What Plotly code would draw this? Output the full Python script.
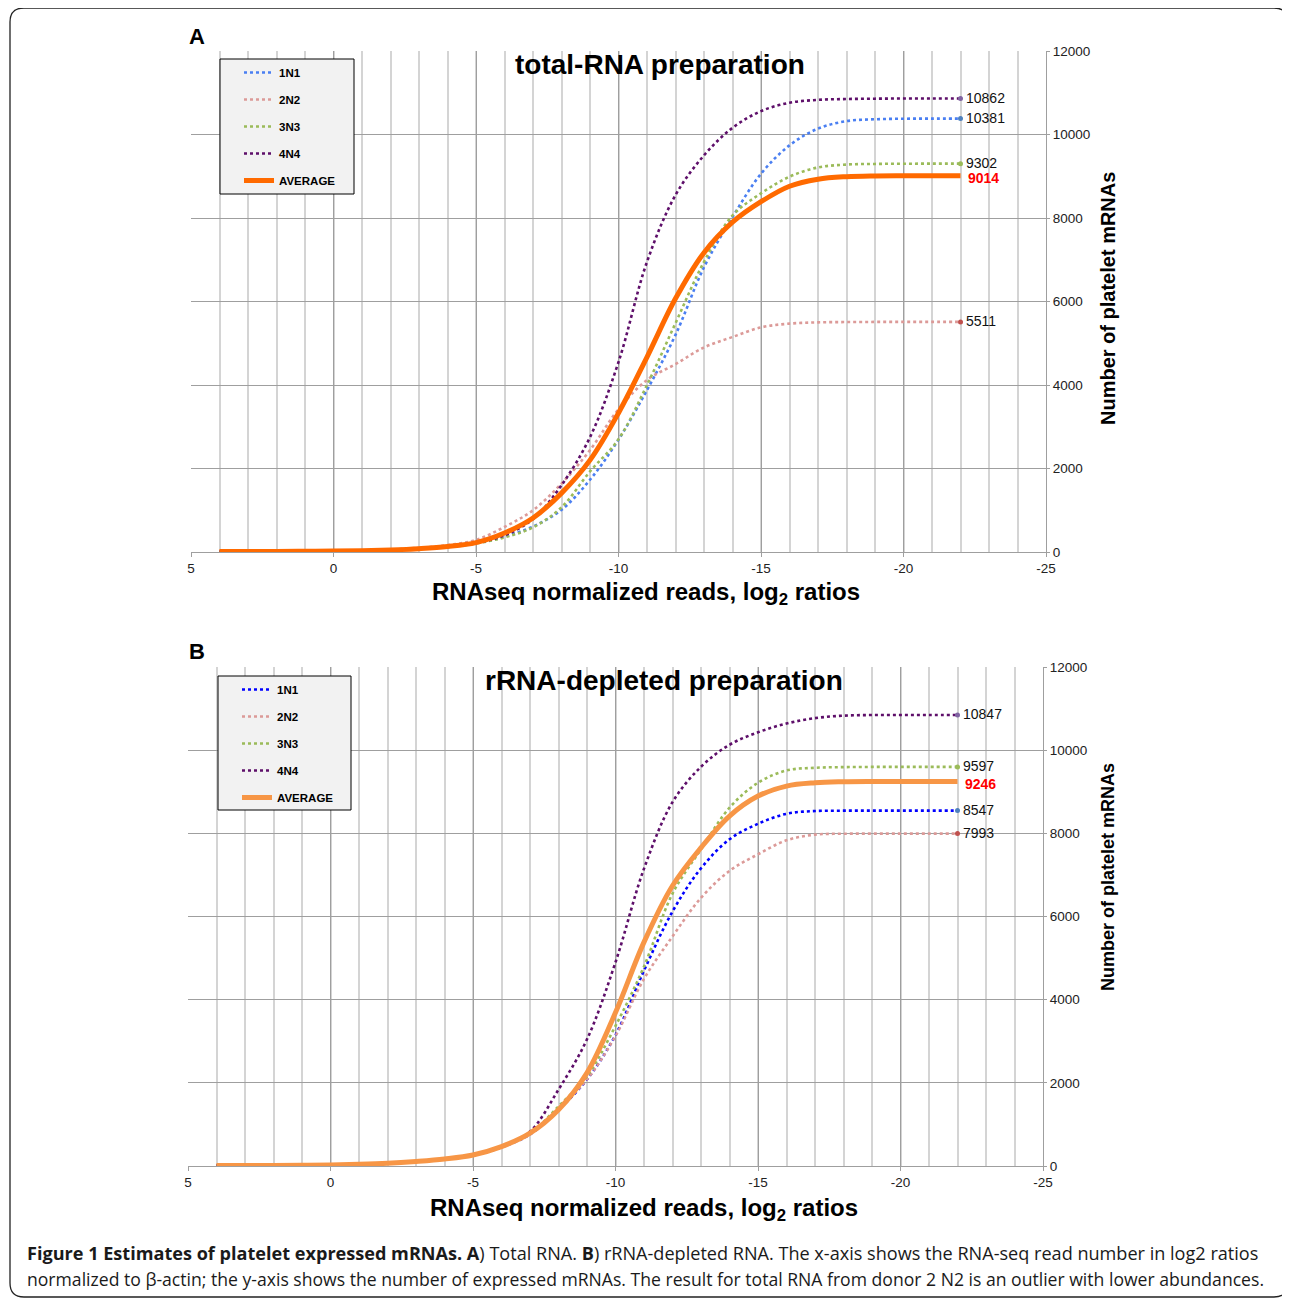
import plotly.graph_objects as go

# page body margin of the viewer is 8px, so the figure is made 8px smaller
W, H = 1290, 1299
OFF = 8
FW, FH = W - OFF, H - OFF

# ---------------- data ----------------
x_vals = [4, 3, 2, 1, 0, -1, -2, -3, -4, -5, -6, -7, -8, -9, -10, -11, -12,
          -13, -14, -15, -16, -17, -18, -19, -20, -21, -22]

# Panel A: total-RNA preparation
a_1n1 = [8, 10, 12, 15, 20, 28, 45, 75, 120, 210, 370, 610, 1010, 1730, 2690, 3880, 5200,
         6820, 8020, 9060, 9740, 10140, 10320, 10365, 10378, 10381, 10381]
a_2n2 = [8, 10, 14, 18, 25, 38, 60, 100, 165, 290, 600, 1000, 1640, 2440, 3420, 4120, 4500,
         4900, 5150, 5380, 5470, 5500, 5508, 5511, 5511, 5511, 5511]
a_3n3 = [8, 10, 12, 15, 20, 28, 45, 75, 120, 205, 350, 590, 1070, 1930, 2700, 4000, 5480,
         6950, 8060, 8590, 8990, 9210, 9280, 9295, 9300, 9302, 9302]
a_4n4 = [8, 10, 12, 15, 20, 28, 45, 75, 120, 215, 400, 790, 1600, 2750, 4550, 6950, 8550,
         9500, 10160, 10560, 10760, 10830, 10850, 10858, 10862, 10862, 10862]
a_avg = [10, 12, 14, 18, 22, 32, 50, 80, 130, 225, 455, 815, 1410, 2200, 3330, 4670, 6070,
         7170, 7900, 8390, 8760, 8930, 8990, 9008, 9012, 9014, 9014]

# Panel B: rRNA-depleted preparation
b_1n1 = [10, 12, 14, 18, 25, 40, 65, 110, 165, 255, 450, 760, 1354, 2080, 3150, 4700, 6120,
         7160, 7856, 8230, 8470, 8536, 8545, 8547, 8547, 8547, 8547]
b_2n2 = [10, 12, 14, 18, 25, 40, 65, 110, 170, 260, 460, 770, 1394, 2080, 3127, 4500, 5520,
         6450, 7096, 7496, 7832, 7968, 7990, 7993, 7993, 7993, 7993]
b_3n3 = [10, 12, 14, 18, 25, 40, 65, 110, 170, 260, 460, 780, 1435, 2160, 3370, 4800, 6550,
         7616, 8616, 9216, 9512, 9576, 9592, 9597, 9597, 9597, 9597]
b_4n4 = [10, 12, 14, 18, 25, 40, 65, 110, 170, 260, 460, 830, 1838, 3047, 4900, 7150, 8750,
         9600, 10130, 10430, 10640, 10770, 10830, 10845, 10847, 10847, 10847]
b_avg = [10, 12, 14, 18, 25, 40, 65, 110, 170, 266, 467, 790, 1354, 2240, 3690, 5384, 6740,
         7656, 8416, 8896, 9136, 9216, 9240, 9246, 9246, 9246, 9246]

series_names = ["1N1", "2N2", "3N3", "4N4", "AVERAGE"]
x_ticks = [5, 0, -5, -10, -15, -20, -25]
y_ticks = [0, 2000, 4000, 6000, 8000, 10000, 12000]

# ---------------- styles ----------------
colors_a = ["#4a7ff2", "#dc9a98", "#9bbb59", "#5e0f6a", "#ff6a00"]
colors_b = ["#0000ff", "#dc9a98", "#9bbb59", "#5e0f6a", "#f79646"]
end_marker_colors = ["#4f81bd", "#c0504d", "#9bbb59", "#8064a2"]

def px_x(p):
    return (p - OFF) / FW

def px_y(p):
    return 1 - (p - OFF) / FH

panels = [
    dict(data=[a_1n1, a_2n2, a_3n3, a_4n4, a_avg], colors=colors_a, xa="x", ya="y",
         legend="legend", dom_x=[px_x(191), px_x(1046)], dom_y=[px_y(552), px_y(51)]),
    dict(data=[b_1n1, b_2n2, b_3n3, b_4n4, b_avg], colors=colors_b, xa="x2", ya="y2",
         legend="legend2", dom_x=[px_x(188), px_x(1043)], dom_y=[px_y(1166), px_y(667)]),
]

fig = go.Figure()
annotations = []

for pi, p in enumerate(panels):
    for si, (name, ys) in enumerate(zip(series_names, p["data"])):
        is_avg = name == "AVERAGE"
        fig.add_trace(go.Scatter(
            x=x_vals, y=ys, name=name, mode="lines",
            line=dict(color=p["colors"][si], width=5 if is_avg else 2.6,
                      dash="solid" if is_avg else "dot", shape="spline", smoothing=1.0),
            xaxis=p["xa"], yaxis=p["ya"], legend=p["legend"],
            legendgroup=f"{pi}-{si}", showlegend=True, hoverinfo="skip",
        ))
        if not is_avg:
            fig.add_trace(go.Scatter(
                x=[x_vals[-1]], y=[ys[-1]], mode="markers",
                marker=dict(color=end_marker_colors[si], size=5),
                xaxis=p["xa"], yaxis=p["ya"], showlegend=False, hoverinfo="skip",
            ))
        annotations.append(dict(
            x=x_vals[-1], y=ys[-1], xref=p["xa"], yref=p["ya"],
            text=f"<b>{ys[-1]}</b>" if is_avg else str(ys[-1]),
            showarrow=False, xanchor="left", yanchor="middle",
            xshift=5 if is_avg else 3, yshift=-2 if is_avg else 1,
            font=dict(family="Liberation Sans, Arial", size=14,
                      color="#ff0000" if is_avg else "#111111"),
        ))

axis_font = dict(family="Liberation Sans, Arial", size=13.5, color="#222222")
major_grid = "#9f9f9f"
minor_grid = "#d4d4d4"

layout_axes = {}
for i, p in enumerate(panels):
    suffix = "" if i == 0 else "2"
    layout_axes["xaxis" + suffix] = dict(
        domain=p["dom_x"], range=[5, -25], anchor="y" + suffix,
        tickmode="array", tickvals=x_ticks, ticktext=[str(v) for v in x_ticks],
        showgrid=True, gridcolor=major_grid, gridwidth=1.2,
        minor=dict(tickmode="linear", tick0=0, dtick=1, showgrid=True,
                   gridcolor=minor_grid, gridwidth=1.6),
        showline=True, linecolor=major_grid, linewidth=1.2,
        ticks="outside", ticklen=4, tickcolor=major_grid,
        zeroline=False, tickfont=axis_font, fixedrange=True, automargin=False,
    )
    layout_axes["yaxis" + suffix] = dict(
        domain=p["dom_y"], range=[0, 12000], anchor="x" + suffix, side="right",
        tickmode="array", tickvals=y_ticks, ticktext=[str(v) for v in y_ticks],
        showgrid=True, gridcolor=major_grid, gridwidth=1.2,
        showline=True, linecolor=major_grid, linewidth=1.2,
        ticks="outside", ticklen=3, tickcolor=major_grid,
        zeroline=False, tickfont=axis_font, fixedrange=True, automargin=False,
    )

bold_font = "Liberation Sans, Arial"

def text_ann(x, y, text, size, anchor="center", angle=0, family=bold_font, color="#000000"):
    return dict(x=px_x(x), y=px_y(y), xref="paper", yref="paper", text=text,
                showarrow=False, xanchor=anchor, yanchor="middle", textangle=angle,
                font=dict(family=family, size=size, color=color))

annotations += [
    text_ann(197, 37, "<b>A</b>", 22),
    text_ann(197, 651, "<b>B</b>", 22),
    text_ann(660, 64, "<b>total-RNA preparation</b>", 28),
    text_ann(664, 680, "<b>rRNA-depleted preparation</b>", 28),
    text_ann(646, 593, "<b>RNAseq normalized reads, log<sub>2</sub> ratios</b>", 24),
    text_ann(644, 1209, "<b>RNAseq normalized reads, log<sub>2</sub> ratios</b>", 24),
    text_ann(1108, 299, "<b>Number of platelet mRNAs</b>", 20, angle=-90),
    text_ann(1108, 877, "<b>Number of platelet mRNAs</b>", 18, angle=-90),
    text_ann(25, 1253, "<b>Figure 1 Estimates of platelet expressed mRNAs. A</b>) Total RNA. "
             "<b>B</b>) rRNA-depleted RNA. The x-axis shows the RNA-seq read number in log2 ratios",
             18.1, anchor="left", family="Open Sans", color="#1a1a1a"),
    text_ann(25, 1279, "normalized to β-actin; the y-axis shows the number of expressed mRNAs. "
             "The result for total RNA from donor 2 N2 is an outlier with lower abundances.",
             17.6, anchor="left", family="Open Sans", color="#1a1a1a"),
]

# legend boxes and outer frame
shapes = [
    dict(type="rect", xref="paper", yref="paper", x0=px_x(220), x1=px_x(354),
         y0=px_y(194), y1=px_y(59), fillcolor="#f2f2f2",
         line=dict(color="#000000", width=1), layer="above"),
    dict(type="rect", xref="paper", yref="paper", x0=px_x(218), x1=px_x(351),
         y0=px_y(810), y1=px_y(676), fillcolor="#f2f2f2",
         line=dict(color="#000000", width=1), layer="above"),
]
L, R, T, B = px_x(10), px_x(1288), px_y(8), px_y(1297)
rx, ry = 14 / FW, 14 / FH
frame_path = (f"M {L},{B + ry} L {L},{T - ry} Q {L},{T} {L + rx},{T} "
              f"L {R - rx},{T} Q {R},{T} {R},{T - ry} L {R},{B + ry} "
              f"Q {R},{B} {R - rx},{B} L {L + rx},{B} Q {L},{B} {L},{B + ry} Z")
shapes.append(dict(type="path", xref="paper", yref="paper", path=frame_path,
                   line=dict(color="#222222", width=1.3), fillcolor="rgba(0,0,0,0)",
                   layer="below"))

legend_common = dict(bgcolor="rgba(0,0,0,0)", borderwidth=0, itemwidth=30,
                     tracegroupgap=8, xanchor="left", yanchor="top",
                     font=dict(family="Liberation Sans, Arial", size=11.5,
                               color="#000000", weight="bold"),
                     itemclick=False, itemdoubleclick=False)

fig.update_layout(
    width=FW, height=FH,
    margin=dict(l=0, r=0, t=0, b=0, pad=0, autoexpand=False),
    paper_bgcolor="white", plot_bgcolor="white",
    showlegend=True,
    legend=dict(x=px_x(239), y=px_y(58), **legend_common),
    legend2=dict(x=px_x(237), y=px_y(675), **legend_common),
    annotations=annotations,
    shapes=shapes,
    **layout_axes,
)

fig.write_html("out.html")
